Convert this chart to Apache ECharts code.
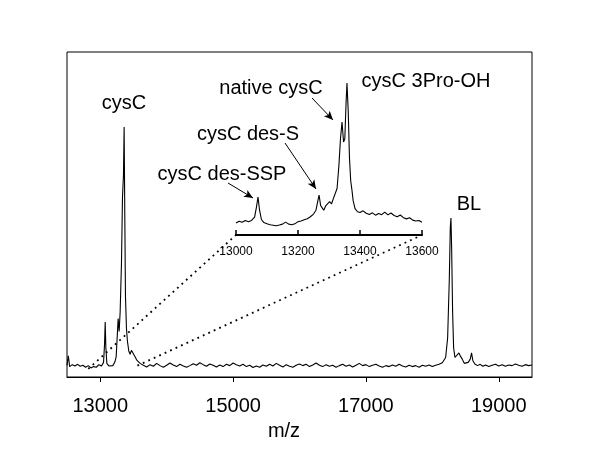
<!DOCTYPE html>
<html>
<head>
<meta charset="utf-8">
<script src="https://cdn.jsdelivr.net/npm/echarts@6/dist/echarts.min.js"></script>
<style>
  html, body { margin: 0; padding: 0; background: #fff; }
  #chart { width: 600px; height: 464px; }
</style>
</head>
<body>
<div id="chart"></div>
<script>
// main spectrum, m/z and intensity (arbitrary units 0-100)
const mainMz = [
  12500, 12520, 12540, 12580, 12620, 12660, 12700, 12740, 12780, 12820, 12860, 12900, 12940, 12980,
  13020, 13050, 13065, 13075, 13085, 13100, 13130, 13160, 13190, 13220, 13240, 13255, 13270, 13285,
  13300, 13320, 13335, 13343, 13350, 13360, 13370, 13380, 13395, 13410, 13430, 13450, 13470, 13496,
  13520, 13550, 13600, 13650, 13700, 13750, 13800, 13850, 13900, 13950, 14000, 14050, 14100, 14150,
  14200, 14250, 14300, 14350, 14400, 14450, 14500, 14550, 14600, 14650, 14700, 14750, 14800, 14850,
  14900, 14950, 15000, 15050, 15100, 15150, 15200, 15250, 15300, 15350, 15400, 15450, 15500, 15550,
  15600, 15650, 15700, 15750, 15800, 15850, 15900, 15950, 16000, 16050, 16100, 16150, 16200, 16250,
  16300, 16350, 16400, 16450, 16500, 16550, 16600, 16650, 16700, 16750, 16800, 16850, 16900, 16950,
  17000, 17050, 17100, 17150, 17200, 17250, 17300, 17350, 17400, 17450, 17500, 17550, 17600, 17650,
  17700, 17750, 17800, 17850, 17900, 17950, 18000, 18050, 18100, 18150, 18200, 18230, 18255, 18270,
  18280, 18290, 18305, 18320, 18340, 18370, 18400, 18420, 18450, 18480, 18510, 18540, 18570, 18590,
  18610, 18640, 18680, 18720, 18760, 18800, 18850, 18900, 18950, 19000, 19050, 19100, 19150, 19200,
  19250, 19300, 19350, 19400, 19450, 19500
];
const mainInt = [
  3.6, 6.5, 3.2, 3.8, 3.4, 3.9, 3.3, 3.6, 3.0, 3.5, 2.8, 3.2, 3.0, 3.8,
  3.4, 4.5, 10, 16.9, 9, 4.2, 3.4, 3.0, 3.5, 4.6, 6.2, 12, 18, 14,
  20, 35, 55, 59, 62, 76.9, 50, 25, 15, 11, 8, 7, 8.2, 8.3,
  6.4, 5.2, 4.2, 3.6, 3.1, 3.8, 3.3, 4.2, 3.5, 3.0, 3.6, 4.3, 3.7, 3.2,
  3.9, 3.4, 3.0, 3.5, 4.1, 3.6, 4.4, 3.8, 3.3, 4.0, 3.6, 3.1, 3.7, 3.2,
  3.9, 3.5, 4.3, 3.8, 3.4, 3.9, 3.2, 3.6, 2.9, 3.4, 3.0, 3.7, 3.3, 3.9,
  3.4, 4.2, 3.6, 3.1, 3.8, 3.3, 3.0, 3.6, 4.0, 3.5, 3.9, 3.2, 3.7, 4.3,
  3.6, 3.2, 3.8, 3.3, 3.6, 3.0, 3.5, 3.9, 3.3, 3.7, 3.1, 3.6, 4.2, 3.5,
  3.8, 3.2, 3.6, 3.9, 3.4, 3.0, 3.5, 3.2, 3.7, 3.3, 3.9, 3.4, 3.1, 3.6,
  3.2, 3.5, 3.0, 3.6, 3.3, 3.7, 3.2, 3.6, 3.9, 4.4, 6.0, 12, 30, 46,
  48.9, 40, 20, 9, 6, 5.5, 7.4, 6.5, 5.5, 4.2, 4.8, 4.5, 5.5, 7.4,
  5.0, 4.0, 3.5, 3.9, 3.3, 3.7, 3.2, 3.6, 3.9, 3.4, 3.8, 3.3, 3.7, 3.5,
  4.0, 3.6, 3.3, 3.8, 3.5, 3.7
];
const mainTicks = [13000, 15000, 17000, 19000];

// inset: zoom of 13000-13600
const insetMz = [
  13000, 13010, 13020, 13030, 13040, 13050, 13060, 13066, 13071, 13076, 13082, 13090, 13100, 13110,
  13120, 13130, 13140, 13150, 13160, 13170, 13180, 13190, 13200, 13210, 13220, 13230, 13240, 13250,
  13258, 13264, 13268, 13273, 13278, 13283, 13290, 13296, 13302, 13308, 13314, 13320, 13326, 13332,
  13337, 13342, 13347, 13351, 13355, 13358, 13362, 13366, 13370, 13374, 13378, 13384, 13392, 13400,
  13410, 13420, 13430, 13440, 13450, 13460, 13470, 13480, 13490, 13500, 13510, 13520, 13530, 13540,
  13550, 13560, 13570, 13580, 13590, 13600
];
const insetInt = [
  7.8, 8.9, 8.2, 9.3, 8.5, 9.4, 11.5, 18, 24.5, 16, 10, 8.0, 7.2, 6.6,
  6.3, 6.0, 6.4, 7.0, 8.3, 7.0, 6.6, 7.2, 8.6, 9.0, 9.8, 10.5, 11.8, 13.5,
  16, 22, 25.8, 19, 17.5, 16, 19, 18, 21.5, 20, 23.5, 24.5, 30, 45,
  62, 72.9, 60, 62, 85, 98, 80, 50, 35, 29, 22, 17, 15, 14.5,
  15.6, 14, 13.2, 14.3, 12.8, 13.9, 13.1, 14.8, 13.0, 14.2, 12.6, 11.8, 12.9, 11.2,
  10.4, 11.1, 9.6, 9.0, 9.4, 8.2
];

const peakLabels = [
  { text: "cysC", x: 124, y: 103 },
  { text: "native cysC", x: 271, y: 88 },
  { text: "cysC des-S", x: 248, y: 134 },
  { text: "cysC des-SSP", x: 222, y: 174 },
  { text: "cysC 3Pro-OH", x: 426, y: 81 },
  { text: "BL", x: 469, y: 204 },
];
const arrows = [
  [312, 98, 333, 120],
  [285, 143, 316, 189],
  [228, 183, 253, 198],
];

const font = "Liberation Sans, Arial, sans-serif";
const toPairs = (xs, ys) => xs.map((x, i) => [x, ys[i]]);

const chart = echarts.init(document.getElementById("chart"), null, { renderer: "canvas" });

chart.setOption({
  animation: false,
  backgroundColor: "#fff",
  grid: [
    { left: 67, right: 68, top: 52, bottom: 87, show: true, borderColor: "#000", borderWidth: 1 },
    { left: 236, right: 178, top: 80, bottom: 229 },
  ],
  xAxis: [
    {
      type: "value",
      gridIndex: 0,
      min: 12500,
      max: 19500,
      axisLine: { show: true, lineStyle: { color: "#000", width: 1 } },
      axisTick: { show: true, length: 5, customValues: mainTicks, lineStyle: { color: "#000" } },
      axisLabel: {
        customValues: mainTicks,
        formatter: (v) => String(v),
        margin: 19,
        fontSize: 20,
        color: "#000",
        fontFamily: font,
      },
      splitLine: { show: false },
    },
    {
      type: "value",
      gridIndex: 1,
      min: 13000,
      max: 13600,
      interval: 200,
      axisLine: { show: true, lineStyle: { color: "#000", width: 2 } },
      axisTick: { show: true, inside: true, length: 5, lineStyle: { color: "#000", width: 1.5 } },
      axisLabel: { formatter: (v) => String(v), margin: 11, fontSize: 12, color: "#000", fontFamily: font },
      splitLine: { show: false },
    },
  ],
  yAxis: [
    { type: "value", gridIndex: 0, min: 0, max: 100, show: false },
    { type: "value", gridIndex: 1, min: 0, max: 100, show: false },
  ],
  series: [
    {
      type: "line",
      xAxisIndex: 0,
      yAxisIndex: 0,
      data: toPairs(mainMz, mainInt),
      showSymbol: false,
      lineStyle: { color: "#000", width: 1.1 },
    },
    {
      type: "line",
      xAxisIndex: 1,
      yAxisIndex: 1,
      data: toPairs(insetMz, insetInt),
      showSymbol: false,
      lineStyle: { color: "#000", width: 1.1 },
      markLine: {
        silent: true,
        symbol: ["none", "arrow"],
        symbolSize: [6, 9],
        label: { show: false },
        lineStyle: { color: "#000", width: 1, type: "solid" },
        data: arrows.map((a) => [
          { x: a[0], y: a[1] },
          { x: a[2], y: a[3] },
        ]),
      },
    },
  ],
});

// dotted zoom lines from the main axis to the inset axis ends
const p1a = chart.convertToPixel({ xAxisIndex: 0, yAxisIndex: 0 }, [12820, 2.5]);
const p1b = chart.convertToPixel({ xAxisIndex: 1, yAxisIndex: 1 }, [13000, 0]);
const p2a = chart.convertToPixel({ xAxisIndex: 0, yAxisIndex: 0 }, [13560, 3.5]);
const p2b = chart.convertToPixel({ xAxisIndex: 1, yAxisIndex: 1 }, [13600, 0]);

const dotted = { stroke: "#000", lineWidth: 1.8, lineDash: [1.8, 4.2] };

chart.setOption({
  graphic: [
    { type: "line", shape: { x1: p1a[0], y1: p1a[1], x2: p1b[0], y2: p1b[1] }, style: dotted, z: 1 },
    { type: "line", shape: { x1: p2a[0], y1: p2a[1], x2: p2b[0], y2: p2b[1] }, style: dotted, z: 1 },
    ...peakLabels.map((l) => ({
      type: "text",
      x: l.x,
      y: l.y,
      style: { text: l.text, font: "20px " + font, fill: "#000", align: "center", verticalAlign: "middle" },
    })),
    {
      type: "text",
      x: 284,
      y: 431,
      style: { text: "m/z", font: "20px " + font, fill: "#000", align: "center", verticalAlign: "middle" },
    },
  ],
});
</script>
</body>
</html>
